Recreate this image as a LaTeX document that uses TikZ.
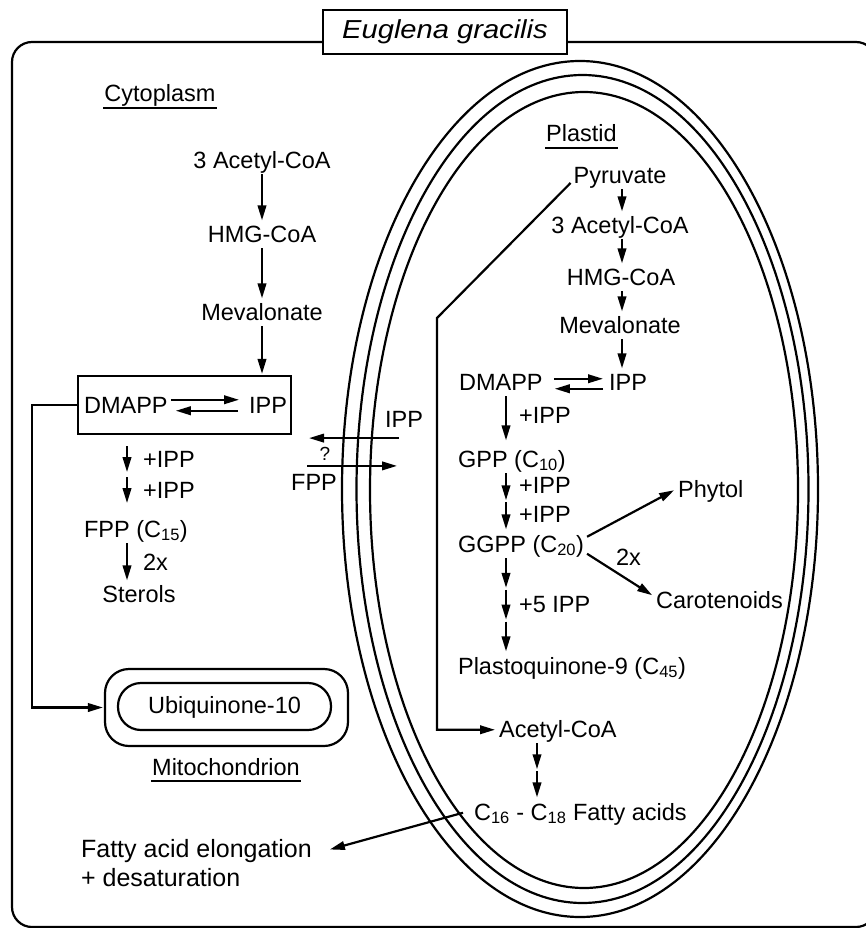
\documentclass[tikz,border=0pt]{standalone}
\usepackage{fontspec}
\setmainfont{Liberation Sans}
\usetikzlibrary{arrows.meta}
\usetikzlibrary{calc}

\begin{document}
\begin{tikzpicture}
[x=1pt,y=-1pt,line width=2.2pt,%
  every node/.style={inner sep=2pt,text height=17.5pt,text depth=3pt,anchor=base},%
  lbl/.style={anchor=base west},%
  ulab/.style={inner xsep=0pt},%
  box/.style={draw,anchor=center,text height=,text depth=},%
  arr/.style={-{Triangle[length=15pt,width=8.5pt]},shorten >=1pt}]
\fontsize{23.5}{28}\selectfont
\useasboundingbox (0,0) rectangle (866,928);

% cell and plastid
\draw[rounded corners=20pt] (12,42) rectangle (876,927);
\node[box,fill=white,minimum width=244pt,minimum height=44pt,
  font=\fontsize{26}{30}\selectfont\itshape\addfontfeature{FakeStretch=1.12}] (title) at (445,32) {Euglena gracilis};
\draw (580,489) ellipse [x radius=238,y radius=428];
\draw (582.5,489) ellipse [x radius=226,y radius=414];
\draw (584,490) ellipse [x radius=214,y radius=398];

\node[ulab] (cyto) at (160,102) {Cytoplasm};
\draw (cyto.south west) -- (cyto.south east);
\node[ulab] (plastid) at (581.5,142) {Plastid};
\draw (plastid.south west) -- (plastid.south east);

% cytoplasm
\node (cAcCoA) at (262,168) {3 Acetyl-CoA};
\node (cHMG) at (262,242) {HMG-CoA};
\node (cMev) at (262,320) {Mevalonate};
\node[box,minimum width=213pt,minimum height=58pt] (cBox) at (184.5,405) {};
\node[lbl] (cDMAPP) at (81,413) {DMAPP};
\node[lbl] (cIPP) at (246,413) {IPP};
\node[lbl] (cPlusA) at (140,467) {+IPP};
\node[lbl] (cPlusB) at (140,498) {+IPP};
\node[lbl] (cFPP) at (81,537) {FPP (C\textsubscript{15})};
\node[lbl] (cTwo) at (140,570) {2x};
\node (cSterols) at (139,602) {Sterols};
\coordinate (ccol) at (127,0);
\coordinate (cTurn) at (32,0);

\draw[arr] (cAcCoA) -- (cHMG);
\draw[arr] (cHMG) -- (cMev);
\draw[arr] (cMev) -- (cMev.south |- cBox.north);
\draw[arr,shorten >=7pt] ([yshift=6pt]cDMAPP.east) -- ([yshift=6pt]cDMAPP.east -| cIPP.west);
\draw[arr,shorten <=8pt,shorten >=5pt] ([yshift=-5pt]cDMAPP.east -| cIPP.west) -- ([yshift=-5pt]cDMAPP.east);
\foreach \n in {cPlusA,cPlusB}
  \draw[arr] (\n.north -| ccol) -- (\n.south -| ccol);
\draw[arr] (cFPP.south -| ccol) -- (cSterols.north -| ccol);

% mitochondrion
\node[box,rounded corners=24pt,minimum width=243pt,minimum height=77pt] (mito) at (226.5,707.5) {};
\node[box,rounded corners=23pt,minimum width=213pt,minimum height=47pt,
  text height=17.5pt,text depth=3pt] (ubi) at (224.5,706.5) {Ubiquinone-10};
\node[ulab] (mitoLbl) at (226,775) {Mitochondrion};
\draw (mitoLbl.south west) -- (mitoLbl.south east);
\draw[arr] (cBox.west) -- (cBox.west -| cTurn) |- (mito.west);

% exchange across the envelope
\node (xIPP) at (404,427) {IPP};
\node[font=\fontsize{19}{22}\selectfont] (xQ) at (325,460) {?};
\node (xFPP) at (314,490) {FPP};
\draw[arr] ([shift={(-5,5)}]xIPP.south) -- ++(-91,0);
\draw[arr] ([shift={(-7,-3.5)}]xFPP.north) -- ++(91,0);

% plastid
\node (pPyr) at (620,183) {Pyruvate};
\node (pAcCoA) at (620,233) {3 Acetyl-CoA};
\node (pHMG) at (621,285) {HMG-CoA};
\node (pMev) at (620,333) {Mevalonate};
\node[lbl] (pDMAPP) at (456,390) {DMAPP};
\node[lbl] (pIPP) at (606,390) {IPP};
\node[lbl] (pPlus) at (516,423) {+IPP};
\node[lbl] (pGPP) at (455,467) {GPP (C\textsubscript{10})};
\node[lbl] (pPlusA) at (516,493) {+IPP};
\node[lbl] (pPlusB) at (516,522) {+IPP};
\node[lbl] (pGGPP) at (455,552) {GGPP (C\textsubscript{20})};
\node[lbl] (pPhytol) at (675,497) {Phytol};
\node[lbl] (pTwo) at (613,565) {2x};
\node[lbl] (pCarot) at (653,608) {Carotenoids};
\node[lbl] (pFive) at (516,612) {+5 IPP};
\node[lbl] (pPQ) at (455,674) {Plastoquinone-9 (C\textsubscript{45})};
\node[lbl] (pAcetyl) at (496,737) {Acetyl-CoA};
\node[lbl] (pFatty) at (471,820) {C\textsubscript{16} - C\textsubscript{18} Fatty acids};
\node[lbl,font=\fontsize{25}{30}\selectfont] (cElong) at (78,857) {Fatty acid elongation};
\node[lbl,font=\fontsize{25}{30}\selectfont] (cDesat) at (78,886) {+ desaturation};
\coordinate (pmid) at (622,0);
\coordinate (pcol) at (506,0);
\coordinate (pcol2) at (537,0);
\coordinate (pBend) at (437,318);

\draw[arr] (pPyr.south -| pmid) -- (pAcCoA.north -| pmid);
\draw[arr] (pAcCoA.south -| pmid) -- (pHMG.north -| pmid);
\draw[arr] (pHMG.south -| pmid) -- (pMev.north -| pmid);
\draw[arr] (pMev.south -| pmid) -- (pIPP.north -| pmid);
\draw[arr,shorten <=8pt,shorten >=3pt] ([yshift=4pt]pDMAPP.east) -- ([yshift=4pt]pDMAPP.east -| pIPP.west);
\draw[arr,shorten <=3pt,shorten >=9pt] ([yshift=-6pt]pDMAPP.east -| pIPP.west) -- ([yshift=-6pt]pDMAPP.east);
\draw[arr,shorten >=6pt] (pDMAPP.south -| pcol) -- (pGPP.north -| pcol);
\path (pGPP.south -| pcol) coordinate (a0) -- (pGGPP.north -| pcol) coordinate (a2)
  coordinate[pos=.5] (a1);
\path (pGGPP.south -| pcol) coordinate (b0) -- (pPQ.north -| pcol) coordinate (b3)
  coordinate[pos=1/3] (b1) coordinate[pos=2/3] (b2);
\path (pAcetyl.south -| pcol2) coordinate (f0) -- (pFatty.north -| pcol2) coordinate (f2)
  coordinate[pos=.5] (f1);
\foreach \a/\b in {a0/a1,a1/a2,b0/b1,b1/b2,b2/b3,f0/f1,f1/f2}
  \draw[arr,shorten >=2pt] (\a) -- (\b);
\draw[arr] ([yshift=8pt]pGGPP.east) -- (pPhytol.west);
\draw[arr] ([yshift=-9pt]pGGPP.east) -- ([yshift=5pt]pCarot.west);
\draw[arr] (pPyr.base west) -- (pBend) |- (pAcetyl.west);
\draw[arr] ([xshift=-8pt]pFatty.west) -- ([xshift=14pt]cElong.east);
\end{tikzpicture}
\end{document}
